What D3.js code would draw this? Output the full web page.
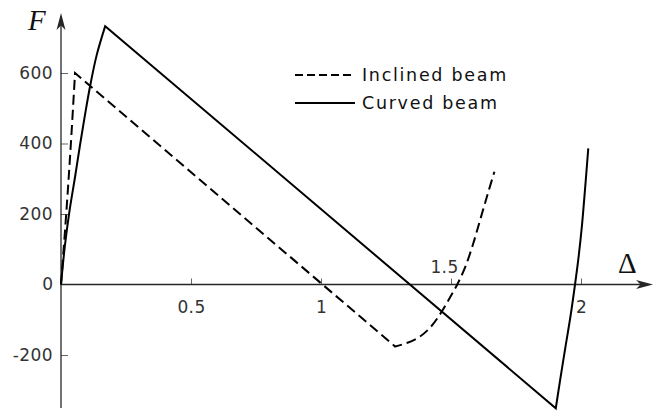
<!DOCTYPE html>
<html>
<head>
<meta charset="utf-8">
<script src="https://cdn.jsdelivr.net/npm/d3@7"></script>
<style>
  html, body { margin: 0; padding: 0; background: #fff; }
  svg { display: block; }
</style>
</head>
<body>
<svg id="chart" width="666" height="411"></svg>
<script>
// Axis ticks
const deltaTicks = [0.5, 1, 1.5, 2];
const forceTicks = [-200, 200, 400, 600];
const seriesNames = ["Inclined beam", "Curved beam"];

// Force–displacement response of the inclined beam
const inclinedDelta = [0, 0.021, 0.038, 0.054, 1.285, 1.33, 1.38, 1.42, 1.46, 1.495, 1.524, 1.555, 1.585, 1.612, 1.64, 1.667];
const inclinedForce = [0, 210, 400, 600, -176, -166, -148, -122, -82, -38, 0, 50, 115, 183, 254, 320];

// Force–displacement response of the curved beam
const curvedDelta = [0, 0.015, 0.034, 0.054, 0.073, 0.092, 0.112, 0.137, 0.170, 1.903, 1.920, 1.940, 1.960, 1.977, 1.991, 2.004, 2.016, 2.028];
const curvedForce = [0, 110, 215, 305, 395, 480, 563, 650, 733, -351, -270, -178, -88, 0, 80, 170, 275, 386];

// Extent of the drawn axis lines (data units)
const deltaAxisEnd = 2.277;
const forceAxisTop = 770;
const forceAxisBottom = -350;

const svg = d3.select("#chart");
const x = d3.scaleLinear().domain([0, 2]).range([61, 581]);
const y = d3.scaleLinear().domain([0, 600]).range([284.5, 73]);

const axisColor = "#262626";
const tickColor = "#666";
const labelColor = "#333";
const font = "'DejaVu Sans', Verdana, sans-serif";

// Y axis ticks (pointing inward) and labels
const yAxis = d3.axisLeft(y).tickValues(forceTicks).tickSizeInner(-7).tickSizeOuter(0).tickPadding(8)
  .tickFormat(d => String(d));
const gy = svg.append("g").attr("transform", `translate(${x(0)},0)`).call(yAxis);
gy.select(".domain").remove();
gy.selectAll(".tick line").attr("stroke", tickColor).attr("stroke-width", 1);
gy.selectAll(".tick text").attr("fill", labelColor).style("font-family", font).style("font-size", "17px").style("letter-spacing", "0.4px");

// zero label on the force axis
svg.append("text").attr("x", x(0) - 8).attr("y", y(0)).attr("dy", "0.32em").attr("text-anchor", "end")
  .attr("fill", labelColor).style("font-family", font).style("font-size", "17px").text("0");

// X axis ticks (pointing upward) and labels
const xAxis = d3.axisBottom(x).tickValues(deltaTicks).tickSizeInner(-6).tickSizeOuter(0).tickPadding(16).tickFormat(d => String(d));
const gx = svg.append("g").attr("transform", `translate(0,${y(0)})`).call(xAxis);
gx.select(".domain").remove();
gx.selectAll(".tick line").attr("stroke", tickColor).attr("stroke-width", 1);
gx.selectAll(".tick text").attr("fill", labelColor).style("font-family", font).style("font-size", "17px").style("letter-spacing", "0.4px");
// the 1.5 label sits above the axis, clear of the dashed curve
gx.selectAll(".tick").filter(d => d === 1.5).select("text")
  .attr("y", -12).attr("dy", "0").attr("x", -7);

// Axis lines
svg.append("line").attr("x1", x(0)).attr("x2", x(deltaAxisEnd) - 6).attr("y1", y(0)).attr("y2", y(0))
  .attr("stroke", axisColor).attr("stroke-width", 1.3);
svg.append("line").attr("x1", x(0)).attr("x2", x(0)).attr("y1", y(forceAxisBottom)).attr("y2", y(forceAxisTop) + 6)
  .attr("stroke", axisColor).attr("stroke-width", 1.3);

// Arrowheads
const arrow = "M0,0 L-17,-4.5 L-12.5,0 L-17,4.5 Z";
svg.append("path").attr("d", arrow).attr("fill", axisColor)
  .attr("transform", `translate(${x(deltaAxisEnd)},${y(0)})`);
svg.append("path").attr("d", arrow).attr("fill", axisColor)
  .attr("transform", `translate(${x(0)},${y(forceAxisTop)}) rotate(-90)`);

// Axis titles
svg.append("text").attr("x", 28).attr("y", 30).attr("fill", "#111")
  .style("font-family", "'Liberation Serif', 'Times New Roman', serif").style("font-style", "italic").style("font-size", "29px").text("F");
svg.append("text").attr("x", 618).attr("y", 273).attr("fill", "#111")
  .style("font-family", "'Liberation Serif', 'Times New Roman', serif").style("font-size", "29px").text("\u0394");

// Curves: smooth loading branches joined by straight softening branches
function curvePath(deltas, forces) {
  const pts = deltas.map((d, i) => [x(d), y(forces[i])]);
  const iPeak = d3.maxIndex(forces);
  const iValley = d3.minIndex(forces);
  const smooth = d3.line().curve(d3.curveCatmullRom.alpha(0.5));
  const straight = d3.line();
  const parts = [
    smooth(pts.slice(0, iPeak + 1)),
    straight(pts.slice(iPeak, iValley + 1)),
    smooth(pts.slice(iValley))
  ];
  return parts[0] + parts.slice(1).map(p => p.replace(/^M[^A-Za-z]*/, "")).join("");
}

svg.append("path").attr("d", curvePath(inclinedDelta, inclinedForce))
  .attr("fill", "none").attr("stroke", "#000").attr("stroke-width", 2)
  .attr("stroke-dasharray", "10,5").attr("stroke-linejoin", "miter");
svg.append("path").attr("d", curvePath(curvedDelta, curvedForce))
  .attr("fill", "none").attr("stroke", "#000").attr("stroke-width", 2).attr("stroke-linejoin", "miter");

// Legend
const legend = svg.append("g").attr("transform", "translate(295,75)");
seriesNames.forEach((name, i) => {
  const row = legend.append("g").attr("transform", `translate(0,${i * 28})`);
  row.append("line").attr("x1", 0).attr("x2", 60).attr("y1", 0).attr("y2", 0)
    .attr("stroke", "#000").attr("stroke-width", 2)
    .attr("stroke-dasharray", i === 0 ? "8,4" : null);
  row.append("text").attr("x", 67).attr("y", 0).attr("dy", "0.36em").attr("fill", "#111")
    .style("font-family", font).style("font-size", "17.5px").style("letter-spacing", "1.7px").text(name);
});
</script>
</body>
</html>
